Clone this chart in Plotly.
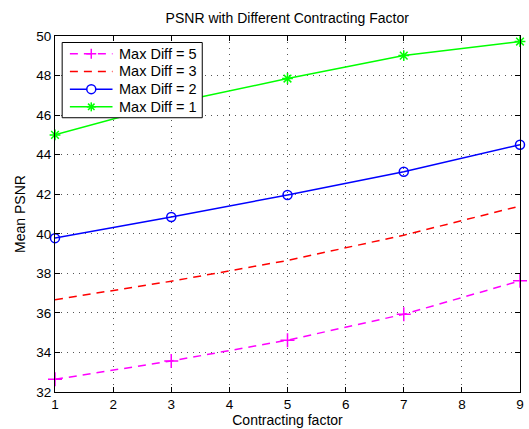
import plotly.graph_objects as go

x = [1, 3, 5, 7, 9]
diff5 = [32.64, 33.57, 34.62, 35.93, 37.62]
diff3 = [36.67, 37.60, 38.65, 39.93, 41.40]
diff2 = [39.78, 40.85, 41.96, 43.14, 44.50]
diff1 = [45.00, 46.60, 47.85, 49.01, 49.72]
names = ["Max Diff = 5", "Max Diff = 3", "Max Diff = 2", "Max Diff = 1"]
colors = ["#FF00FF", "#FF0000", "#0000FF", "#00FF00"]
symbols = ["plus", None, "circle", "asterisk"]
dashes = ["8px,6px", "8px,6px", "solid", "solid"]

plotly_symbol = {"plus": "cross-thin-open", "circle": "circle-open", "asterisk": "asterisk-open"}
marker_size = {"plus": 10, "circle": 9, "asterisk": 9}

fig = go.Figure()
for ys, nm, c, s, d in zip([diff5, diff3, diff2, diff1], names, colors, symbols, dashes):
    kw = dict(x=x, y=ys, name=nm, cliponaxis=False, showlegend=False,
              line=dict(color=c, width=1.5, dash=d))
    if s:
        kw["mode"] = "lines+markers"
        kw["marker"] = dict(symbol=plotly_symbol[s], size=marker_size[s], color=c,
                            line=dict(color=c, width=1.5))
    else:
        kw["mode"] = "lines"
    fig.add_trace(go.Scatter(**kw))

font = "Liberation Sans, Arial, Helvetica, sans-serif"
axis_common = dict(showline=True, linecolor="black", linewidth=1, mirror="ticks",
                   ticks="inside", ticklen=5, tickcolor="black",
                   showgrid=True, gridcolor="#555555", gridwidth=1, griddash="1px,5px",
                   zeroline=False, tickfont=dict(size=13.5, color="black"))

# ---- legend drawn as layout decoration (paper coordinates) ----
box_x0, box_x1, box_y0, box_y1 = 0.0154, 0.3167, 0.7704, 0.9817
row_top, row_step = 0.9501, 0.0497
samp_x0, samp_x1, samp_xc, text_x = 0.032, 0.1237, 0.078, 0.1343

shapes = [dict(type="rect", xref="paper", yref="paper", x0=box_x0, x1=box_x1, y0=box_y0, y1=box_y1,
               line=dict(color="black", width=1), fillcolor="white", layer="above")]
annotations = []


def px_line(xc, yc, dx0, dy0, dx1, dy1, color):
    return dict(type="line", xref="paper", yref="paper", xsizemode="pixel", ysizemode="pixel",
                xanchor=xc, yanchor=yc, x0=dx0, x1=dx1, y0=dy0, y1=dy1,
                line=dict(color=color, width=1.5), layer="above")


for i, (nm, c, s, d) in enumerate(zip(names, colors, symbols, dashes)):
    yc = row_top - i * row_step
    shapes.append(dict(type="line", xref="paper", yref="paper", x0=samp_x0, x1=samp_x1, y0=yc, y1=yc,
                       line=dict(color=c, width=1.5, dash=d), layer="above"))
    if s in ("plus", "asterisk"):
        r = 5 if s == "plus" else 4.5
        shapes.append(px_line(samp_xc, yc, -r, 0, r, 0, c))
        shapes.append(px_line(samp_xc, yc, 0, -r, 0, r, c))
        if s == "asterisk":
            q = r * 0.72
            shapes.append(px_line(samp_xc, yc, -q, -q, q, q, c))
            shapes.append(px_line(samp_xc, yc, -q, q, q, -q, c))
    elif s == "circle":
        shapes.append(dict(type="circle", xref="paper", yref="paper", xsizemode="pixel", ysizemode="pixel",
                           xanchor=samp_xc, yanchor=yc, x0=-4.5, x1=4.5, y0=-4.5, y1=4.5,
                           line=dict(color=c, width=1.5), fillcolor="white", layer="above"))
    annotations.append(dict(text=nm, xref="paper", yref="paper", x=text_x, y=yc,
                            xanchor="left", yanchor="middle", showarrow=False,
                            font=dict(size=14.5, color="black")))

fig.update_layout(
    width=529, height=429,
    margin=dict(l=55, r=5, t=36, b=37),
    paper_bgcolor="white", plot_bgcolor="white",
    font=dict(family=font, size=14, color="black"),
    title=dict(text="PSNR with Different Contracting Factor", x=0.543, xanchor="center",
               y=0.958, yanchor="middle", font=dict(size=14)),
    xaxis=dict(range=[1, 9], dtick=1, tick0=1,
               title=dict(text="Contracting factor", standoff=0, font=dict(size=14)), **axis_common),
    yaxis=dict(range=[32, 50], dtick=2,
               title=dict(text="Mean PSNR", standoff=7, font=dict(size=14)), **axis_common),
    shapes=shapes,
    annotations=annotations,
    showlegend=False,
)

fig.write_html("out.html")
